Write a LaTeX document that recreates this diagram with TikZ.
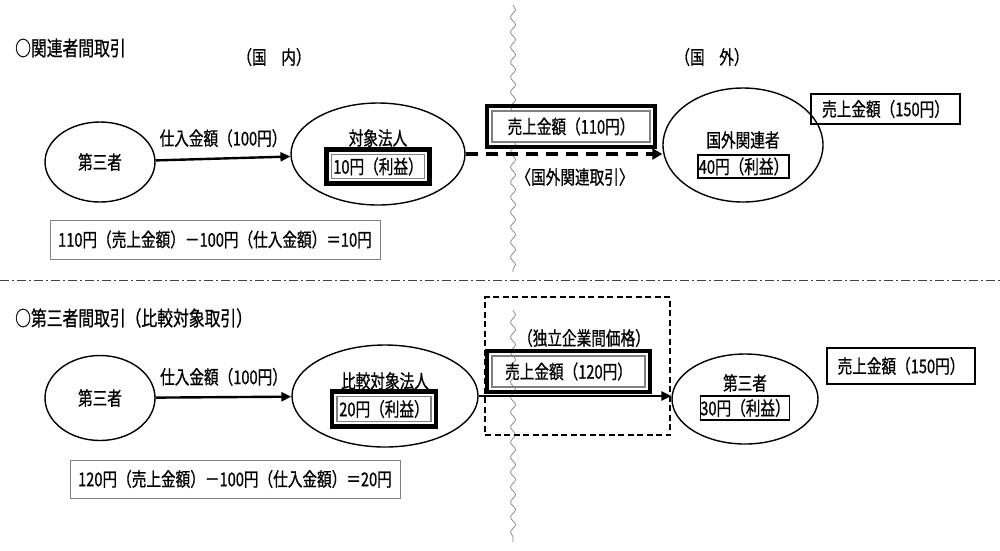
\documentclass[tikz,border=0pt]{standalone}
\usepackage{fontspec}
\setmainfont{Noto Sans CJK JP}[FakeStretch=0.77, FakeBold=0.7]
\usetikzlibrary{shapes.geometric,arrows.meta,decorations.pathmorphing}
\newcommand\fsz[1]{\fontsize{#1}{#1}\selectfont}
\tikzset{
  ell/.style={draw, ellipse, line width=1.4pt, inner sep=0pt, font=\fsz{19}},
  txt/.style={inner sep=0pt, font=\fsz{19}},
  ttl/.style={inner sep=0pt, font=\fsz{20.5}, anchor=west},
  pbox/.style={draw, line width=1.4pt, inner sep=0pt, font=\fsz{19}},
  cbox/.style={draw=gray, line width=1pt, inner sep=0pt, font=\fsz{19}},
  dbox/.style={draw=gray, line width=1.4pt, inner sep=0pt, font=\fsz{19}},
  outer/.style={line width=4.5pt},
  frame/.style={draw, line width=1.4pt, dash pattern=on 6pt off 3.5pt, inner sep=0pt},
  wave/.style={draw=gray, line width=0.7pt, decorate, decoration={snake, amplitude=2.5pt, segment length=15pt}},
  sep/.style={draw=black!75, line width=1pt, dash pattern=on 9pt off 3pt on 2pt off 3pt},
  flow/.style={line width=2.4pt, -{Triangle[length=10pt,width=9pt]}},
  dflow/.style={line width=3.5pt, dash pattern=on 12pt off 8pt, -{Triangle[length=10pt,width=11pt]}},
}
\begin{document}
\begin{tikzpicture}[x=1pt,y=-1pt]
\useasboundingbox[fill=white] (0,0) rectangle (1000,550);

% separators
\coordinate (wt1) at (513,5);
\coordinate (wt2) at (513,272);
\coordinate (wb1) at (513,310);
\coordinate (wb2) at (513,542);
\draw[wave] (wt1) -- (wt2);
\draw[wave] (wb1) -- (wb2);
\coordinate (sl) at (0,280);
\coordinate (sr) at (1000,280);
\draw[sep] (sl) -- (sr);

% ===== top section =====
\node[ttl] (t1) at (15,48) {○関連者間取引};
\node[txt] (dom) at (274,57) {（国　内）};
\node[txt] (frn) at (712,57) {（国　外）};

\node[ell, minimum width=110pt, minimum height=80pt] (a1) at (100,162) {第三者};
\node[ell, minimum width=174pt, minimum height=102pt] (a2) at (378,154) {};
\node[txt] (a2l) at (378,138) {対象法人};
\node[dbox, minimum width=93pt, minimum height=24pt] (a2b) at (378,166.5) {10円（利益）};
\draw[outer] ([xshift=-4.5pt,yshift=4.5pt]a2b.north west) rectangle ([xshift=4.5pt,yshift=-4.5pt]a2b.south east);

\node[ell, minimum width=160pt, minimum height=114pt] (a3) at (743,145) {};
\node[txt] (a3l) at (743,140) {国外関連者};
\node[pbox, minimum width=91pt, minimum height=23pt] (a3b) at (743.5,166.5) {40円（利益）};

\node[dbox, fill=white, minimum width=158pt, minimum height=31pt] (s1) at (571,126.5) {売上金額（110円）};
\draw[outer] ([xshift=-4.5pt,yshift=4.5pt]s1.north west) rectangle ([xshift=4.5pt,yshift=-4.5pt]s1.south east);

\node[pbox, minimum width=149pt, minimum height=30pt] (p1) at (885.5,109) {売上金額（150円）};

\draw[flow] (a1) -- node[txt, above=10pt] (l1) {仕入金額（100円）} (a2);
\draw[dflow] (a2.east) -- (a2.east -| a3.west);
\node[txt] (rel) at (575,177) {〈国外関連取引〉};

\node[cbox, minimum width=330pt, minimum height=39pt] (c1) at (215,239.5) {110円（売上金額）－100円（仕入金額）＝10円};

% ===== bottom section =====
\node[ttl] (t2) at (15,318) {○第三者間取引（比較対象取引）};

\node[ell, minimum width=110pt, minimum height=85pt] (b1) at (100,398) {第三者};
\node[ell, minimum width=186pt, minimum height=102pt] (b2) at (385,396) {};
\node[txt] (b2l) at (385,381) {比較対象法人};
\node[dbox, minimum width=94pt, minimum height=25pt] (b2b) at (384,409) {20円（利益）};
\draw[outer] ([xshift=-4.5pt,yshift=4.5pt]b2b.north west) rectangle ([xshift=4.5pt,yshift=-4.5pt]b2b.south east);

\node[ell, minimum width=146pt, minimum height=90pt] (b3) at (745,399) {};
\node[txt] (b3l) at (745,383) {第三者};
\node[pbox, minimum width=86pt, minimum height=24pt] (b3b) at (745,408) {30円（利益）};

\node[frame, minimum width=185pt, minimum height=138pt] (dbx) at (577.5,366) {};
\node[txt] (ind) at (584,338) {（独立企業間価格）};
\node[dbox, minimum width=153pt, minimum height=31pt] (s2) at (568.5,371.5) {売上金額（120円）};
\draw[outer] ([xshift=-4.5pt,yshift=4.5pt]s2.north west) rectangle ([xshift=4.5pt,yshift=-4.5pt]s2.south east);

\node[pbox, minimum width=148pt, minimum height=36pt] (p2) at (901,366) {売上金額（150円）};

\draw[flow] (b1) -- node[txt, above=10pt] (l2) {仕入金額（100円）} (b2);
\draw[flow] (b2.east) -- (b2.east -| b3.west);

\node[cbox, minimum width=330pt, minimum height=38pt] (c2) at (235,479) {120円（売上金額）－100円（仕入金額）＝20円};
\end{tikzpicture}
\end{document}
